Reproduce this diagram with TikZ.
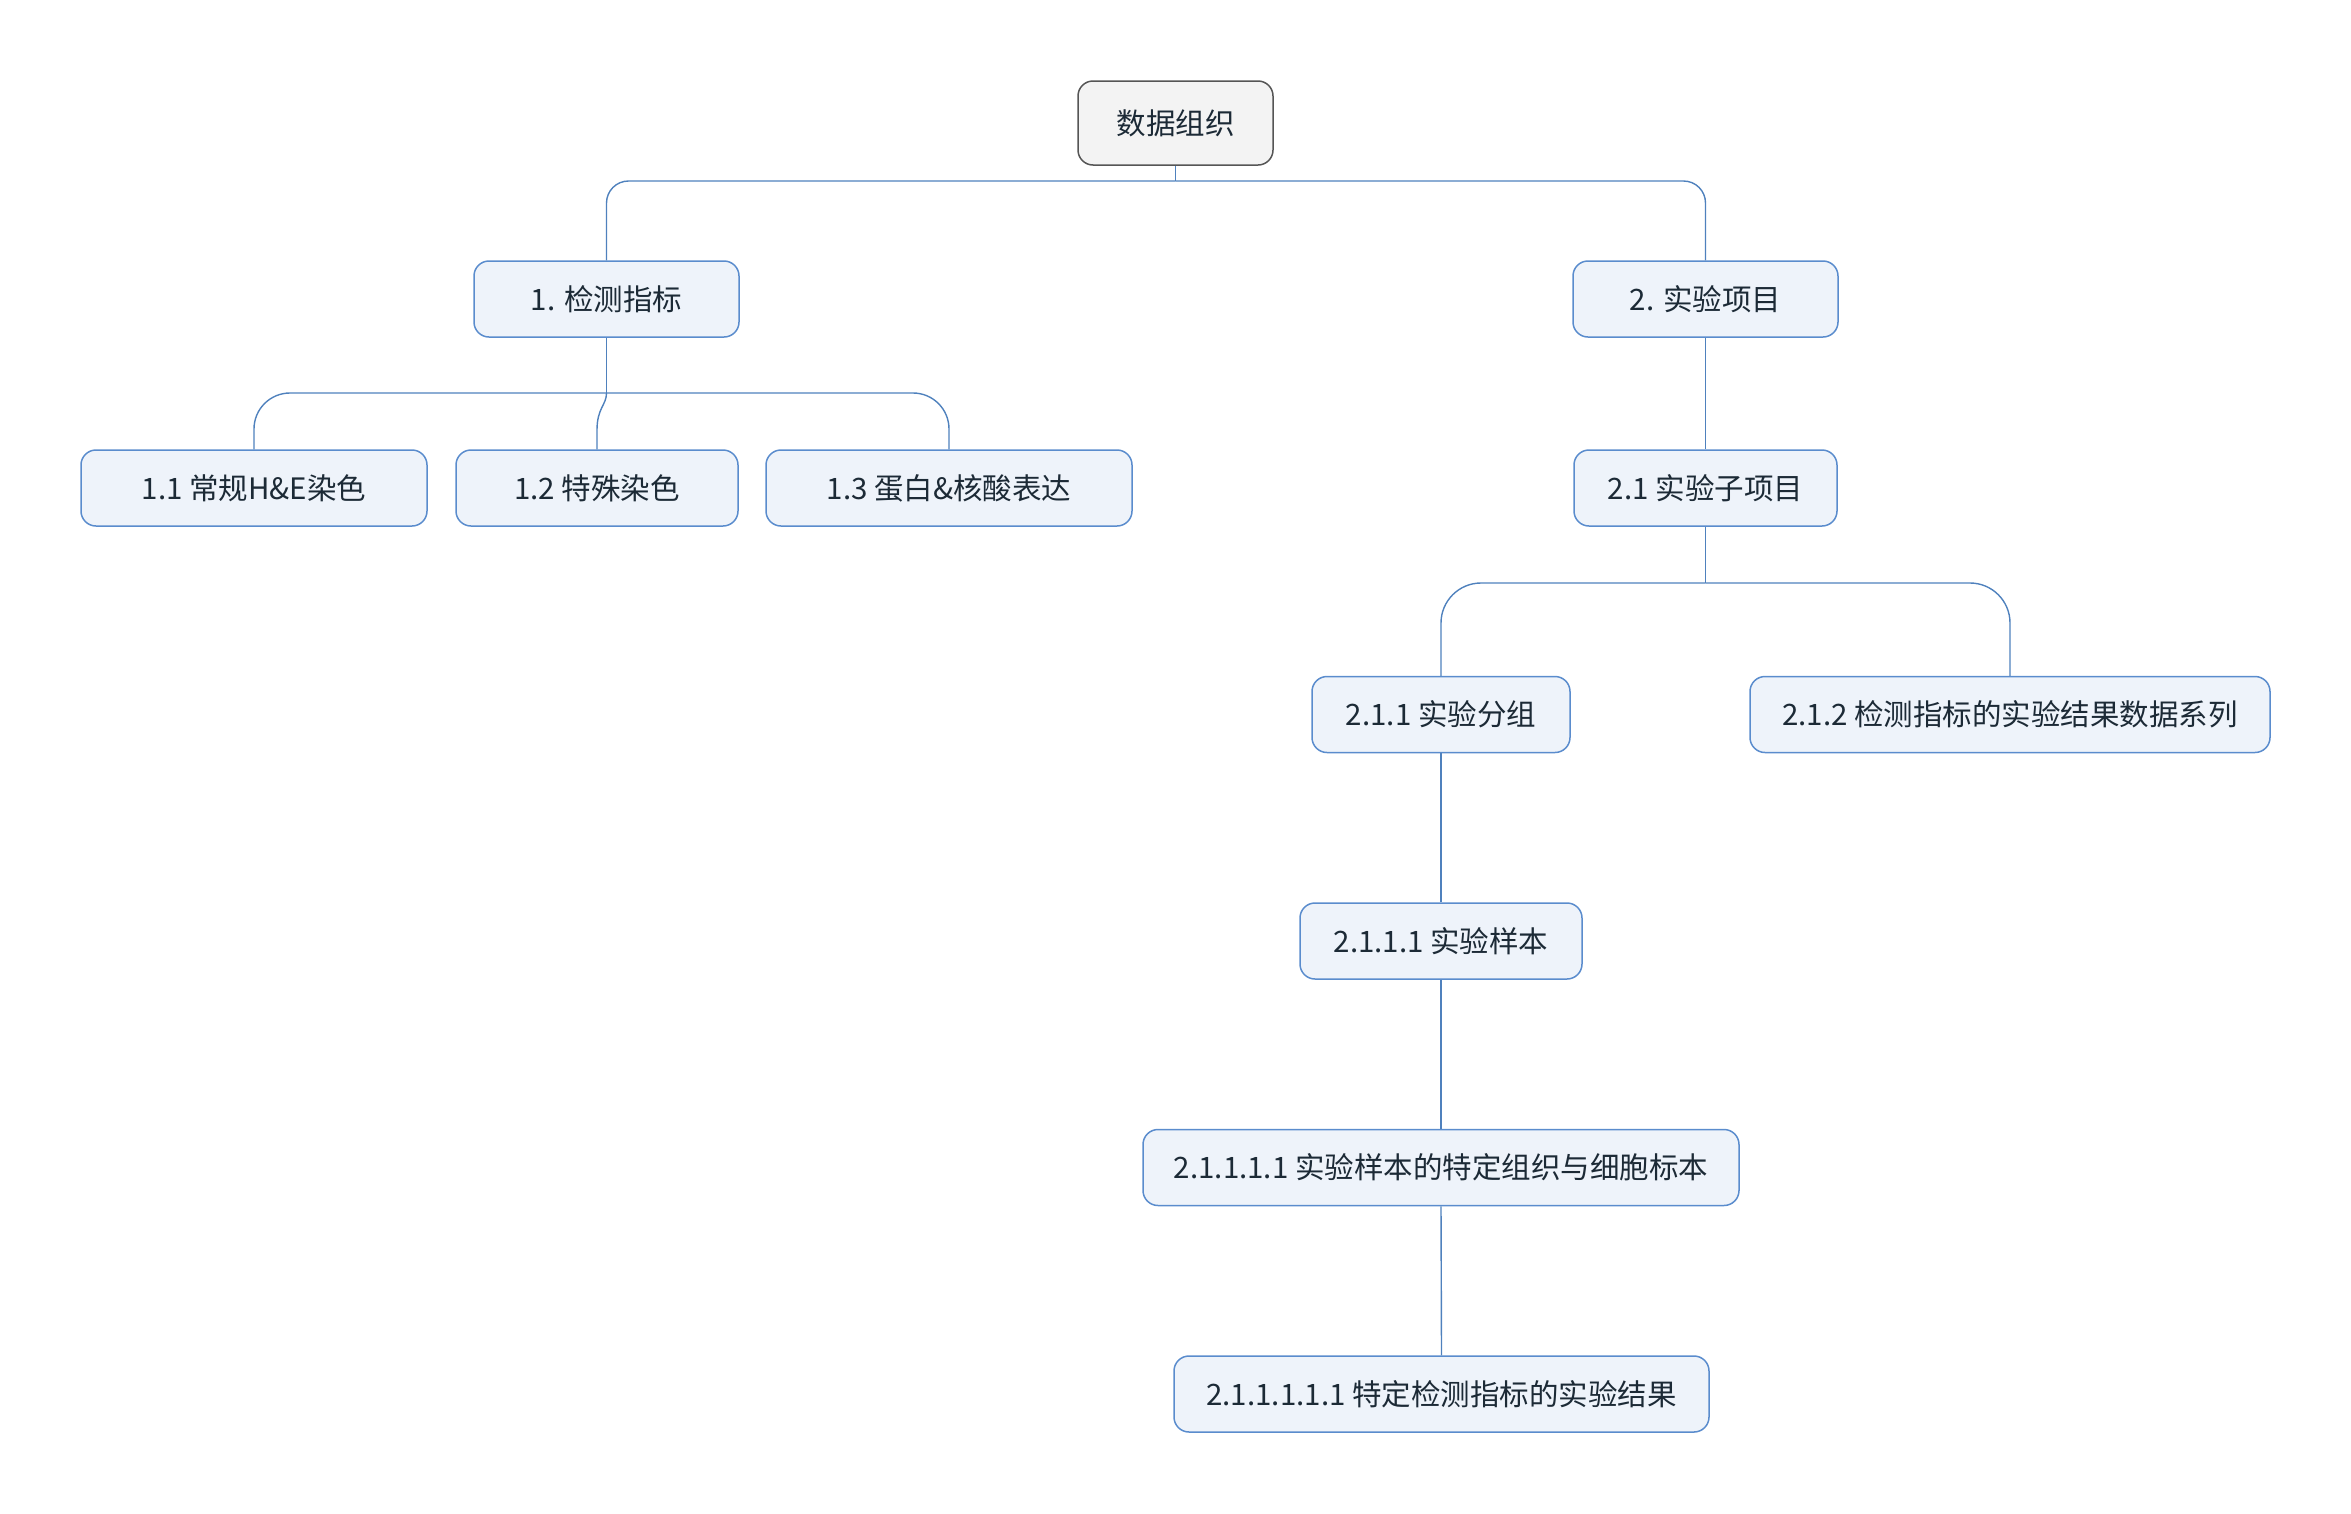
\documentclass[tikz,border=0pt]{standalone}
\usepackage{fontspec}
\setmainfont{Noto Sans CJK SC}
\definecolor{boxfill}{HTML}{EEF3FA}
\definecolor{boxline}{HTML}{5A8CCD}
\definecolor{conn}{HTML}{4F81BD}
\definecolor{rootfill}{HTML}{F3F3F3}
\definecolor{rootline}{HTML}{555555}
\definecolor{txt}{HTML}{1C2A36}
\tikzset{
  topic/.style={draw=boxline, fill=boxfill, line width=1.5pt, rounded corners=15pt,
    text=txt, font=\fontsize{29.5}{34}\selectfont, inner sep=0pt, minimum height=76pt},
  roottopic/.style={topic, draw=rootline, fill=rootfill, minimum height=84pt},
  link/.style={draw=conn, line width=1.4pt}
}
\begin{document}
\begin{tikzpicture}[x=1pt,y=-1pt]
\useasboundingbox (0,0) rectangle (2351,1513);
% nodes
\node[roottopic, minimum width=195pt] (root) at (1175.5,123) {数据组织};
\node[topic, minimum width=265pt] (n1) at (606.5,299) {1. 检测指标};
\node[topic, minimum width=265pt] (n2) at (1705.5,299) {2. 实验项目};
\node[topic, minimum width=346pt] (n11) at (254,488) {1.1 常规H\&E染色};
\node[topic, minimum width=282pt] (n12) at (597,488) {1.2 特殊染色};
\node[topic, minimum width=366pt] (n13) at (949,488) {1.3 蛋白\&核酸表达};
\node[topic, minimum width=263pt] (n21) at (1705.5,488) {2.1 实验子项目};
\node[topic, minimum width=258pt] (n211) at (1441,714.5) {2.1.1 实验分组};
\node[topic, minimum width=520pt] (n212) at (2010,714.5) {2.1.2 检测指标的实验结果数据系列};
\node[topic, minimum width=282pt] (n2111) at (1441,941) {2.1.1.1 实验样本};
\node[topic, minimum width=596pt] (n21111) at (1441,1167.5) {2.1.1.1.1 实验样本的特定组织与细胞标本};
\node[topic, minimum width=535pt] (n211111) at (1441.5,1394) {2.1.1.1.1.1 特定检测指标的实验结果};
% bus points
\coordinate (b0) at (1175.5,181);
\coordinate (b1) at (606.5,393);
\coordinate (b21) at (1705.5,583);
% connectors
\draw[link] (root.south) -- (b0);
\draw[link, rounded corners=22pt] (b0) -| (n1.north);
\draw[link, rounded corners=22pt] (b0) -| (n2.north);
\draw[link] (n1.south) -- (b1);
\draw[link, rounded corners=36pt] (b1) -| (n11.north);
\draw[link, rounded corners=36pt] (b1) -| (n13.north);
\draw[link] (b1) .. controls (606.5,405) and (597,408) .. (597,430) -- (n12.north);
\draw[link] (n2.south) -- (n21.north);
\draw[link] (n21.south) -- (b21);
\draw[link, rounded corners=40pt] (b21) -| (n211.north);
\draw[link, rounded corners=40pt] (b21) -| (n212.north);
\draw[link] (n211.south) -- (n2111.north);
\draw[link] (n2111.south) -- (n21111.north);
\draw[link] (n21111.south) -- (n211111.north);
\end{tikzpicture}
\end{document}
